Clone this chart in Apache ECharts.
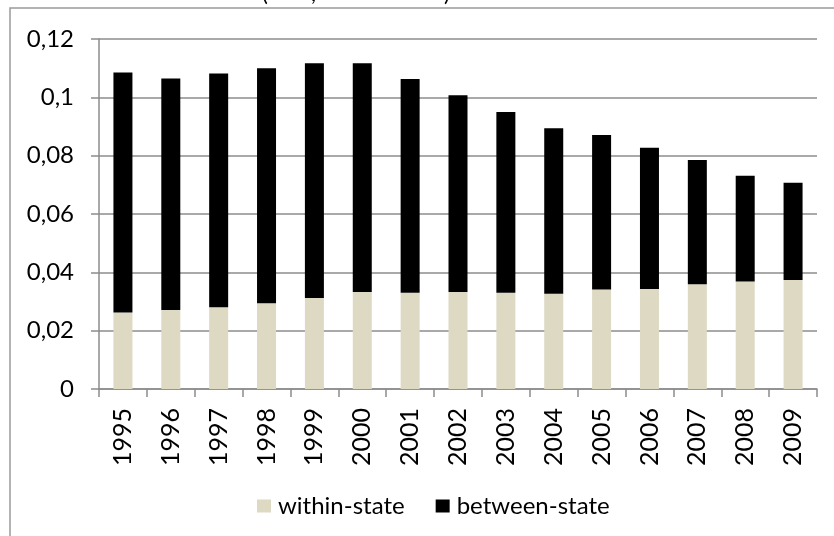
<!DOCTYPE html>
<html>
<head>
<meta charset="utf-8">
<script src="https://cdn.jsdelivr.net/npm/echarts@6/dist/echarts.min.js"></script>
<style>
  html, body { margin: 0; padding: 0; background: #fff; }
  #chart { width: 834px; height: 536px; }
</style>
</head>
<body>
<div id="chart"></div>
<script>
// Years on the category axis
const years = ['1995','1996','1997','1998','1999','2000','2001','2002','2003','2004','2005','2006','2007','2008','2009'];
// Within-state component of the index
const withinState = [0.0262, 0.0271, 0.0280, 0.0294, 0.0312, 0.0333, 0.0330, 0.0333, 0.0330, 0.0327, 0.0341, 0.0343, 0.0359, 0.0369, 0.0374];
// Between-state component of the index (stacked above within-state)
const betweenState = [0.0823, 0.0794, 0.0802, 0.0806, 0.0805, 0.0784, 0.0733, 0.0674, 0.0620, 0.0567, 0.0530, 0.0484, 0.0426, 0.0362, 0.0333];
// Value-axis tick labels, decimal comma
const yTickLabels = ['0', '0,02', '0,04', '0,06', '0,08', '0,1', '0,12'];
const seriesNames = ['within-state', 'between-state'];

const font = 'Lato, "Open Sans", sans-serif';
const gridGray = '#8c8c8c';

const chart = echarts.init(document.getElementById('chart'), null, { renderer: 'canvas' });
chart.setOption({
  animation: false,
  backgroundColor: '#ffffff',
  graphic: [
    {
      type: 'rect',
      shape: { x: 10, y: 8, width: 900, height: 600 },
      style: { fill: 'none', stroke: '#9a9a9a', lineWidth: 1.5 },
      silent: true
    },
    // descenders of the heading, sitting just above the frame
    { type: 'text', x: 262, y: 5, style: { text: '(', font: '22px ' + font, fill: '#000', textVerticalAlign: 'bottom' } },
    { type: 'text', x: 311, y: 5, style: { text: ',', font: '22px ' + font, fill: '#000', textVerticalAlign: 'bottom' } },
    { type: 'text', x: 444, y: 5, style: { text: ')', font: '22px ' + font, fill: '#000', textVerticalAlign: 'bottom' } }
  ],
  grid: { left: 99, right: 17, top: 39, bottom: 147, containLabel: false },
  legend: {
    data: seriesNames,
    left: 252,
    top: 489,
    itemWidth: 14,
    itemHeight: 13,
    itemGap: 31,
    icon: 'rect',
    textStyle: { fontFamily: font, fontSize: 24, color: '#000', padding: [0, 0, 0, 2] }
  },
  xAxis: {
    type: 'category',
    data: years,
    axisLine: { lineStyle: { color: gridGray, width: 1.5 } },
    axisTick: { show: true, length: 8, alignWithLabel: false, lineStyle: { color: gridGray, width: 1.5 } },
    axisLabel: { rotate: 90, margin: 19, fontFamily: font, fontSize: 25, color: '#000' }
  },
  yAxis: {
    type: 'value',
    min: 0,
    max: 0.12,
    interval: 0.02,
    axisLine: { show: true, lineStyle: { color: gridGray, width: 1.5 } },
    axisTick: { show: true, length: 8, lineStyle: { color: gridGray, width: 1.5 } },
    splitLine: { show: true, lineStyle: { color: gridGray, width: 1.5 } },
    axisLabel: {
      margin: 25,
      fontFamily: font,
      fontSize: 24,
      color: '#000',
      formatter: function (v, i) { return yTickLabels[i]; }
    }
  },
  series: [
    {
      name: seriesNames[0],
      type: 'bar',
      stack: 'total',
      data: withinState,
      barWidth: 19,
      itemStyle: { color: '#ddd9c3' }
    },
    {
      name: seriesNames[1],
      type: 'bar',
      stack: 'total',
      data: betweenState,
      barWidth: 19,
      itemStyle: { color: '#000000' }
    }
  ]
});
</script>
</body>
</html>
